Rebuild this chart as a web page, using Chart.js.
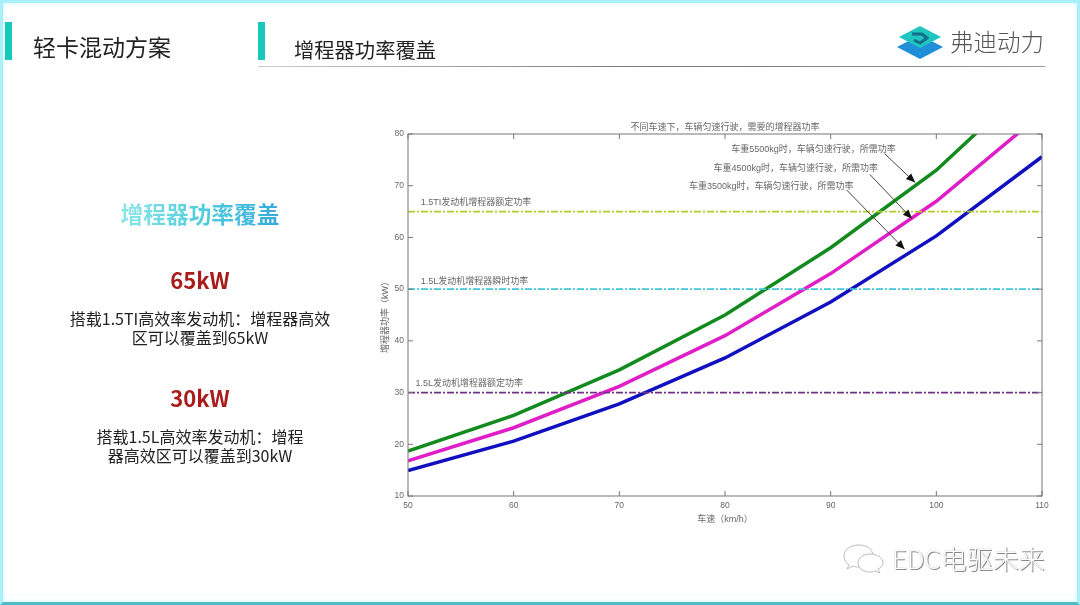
<!DOCTYPE html>
<html lang="zh">
<head>
  <meta charset="UTF-8" />
  <title>增程器功率覆盖</title>
  <script src="https://cdn.jsdelivr.net/npm/chart.js"></script>
  <style>
    * { margin: 0; padding: 0; box-sizing: border-box; }
    body {
      width: 1080px; height: 605px; overflow: hidden; position: relative;
      background: #fff;
      font-family: 'Noto Sans CJK SC', sans-serif;
      color: #222;
    }
    .frame {
      position: absolute; inset: 0; pointer-events: none;
      border: 3px solid #a8f0fa;
      border-bottom-color: #4bbcc8;
      box-shadow: inset 0 0 5px #c9f6fc;
    }
    .bar { position: absolute; top: 22px; width: 7px; height: 38px; background: #17c9bb; }
    .abs { position: absolute; white-space: nowrap; line-height: 1; }
    .rule {
      position: absolute; left: 258px; top: 66px; width: 787px; height: 1px;
      background: linear-gradient(90deg, #ccc, #777 50%, #999);
    }
    .panel { position: absolute; left: 50px; width: 300px; text-align: center; }
    .panel .big { font-size: 22px; font-weight: 700; color: #a81c1c; line-height: 1; }
    .panel .txt { font-size: 16px; line-height: 19px; color: #222; white-space: nowrap; }
    .head {
      display: inline-block; font-size: 22.7px; line-height: 1; font-weight: 700;
      background: linear-gradient(90deg, #8de6e8, #4fcbdc 55%, #36a9dc);
      -webkit-background-clip: text; -webkit-text-fill-color: transparent;
    }
    #chart { position: absolute; left: 0; top: 0; }
  </style>
</head>
<body>
  <canvas id="chart" width="1080" height="605"></canvas>
  <div class="frame"></div>

  <div class="bar" style="left:5px"></div>
  <div class="abs" style="left:33px;top:35px;font-size:23px">轻卡混动方案</div>
  <div class="bar" style="left:258px"></div>
  <div class="abs" style="left:294px;top:39px;font-size:20.3px">增程器功率覆盖</div>
  <div class="rule"></div>

  <svg class="abs" style="left:896px;top:25px" width="48" height="35" viewBox="0 0 48 35">
    <polygon points="24,10 47,22 24,34 1,22" fill="#1f8fd8"/>
    <polygon points="24,1 45,12 24,23 3,12" fill="#1fc6c0"/>
    <path d="M16 9 L26 9 L31 13 L24 18 L18 15" fill="none" stroke="#136f8c" stroke-width="3"/>
  </svg>
  <div class="abs" style="left:950px;top:30px;font-size:23.5px;color:#555;font-weight:300">弗迪动力</div>

  <div class="panel" style="top:203px"><span class="head">增程器功率覆盖</span></div>
  <div class="panel" style="top:268px"><div class="big">65kW</div></div>
  <div class="panel" style="top:309px">
    <div class="txt">搭载1.5TI高效率发动机：增程器高效<br>区可以覆盖到65kW</div>
  </div>
  <div class="panel" style="top:386px"><div class="big">30kW</div></div>
  <div class="panel" style="top:427px">
    <div class="txt">搭载1.5L高效率发动机：增程<br>器高效区可以覆盖到30kW</div>
  </div>

  <svg class="abs" style="left:842px;top:543px" width="44" height="32" viewBox="0 0 44 32">
    <g fill="#fff" stroke="#bbb" stroke-width="1">
      <path d="M17 2 C8 2 2 7 2 13 C2 17 4 20 7 22 L5 26 L11 23 C13 24 15 24 17 24 C26 24 31 19 31 13 C31 7 26 2 17 2 Z"/>
      <path d="M28 11 C21 11 16 15 16 20 C16 25 21 29 28 29 C30 29 31 29 33 28 L38 30 L36 26 C39 25 41 22 41 20 C41 15 35 11 28 11 Z"/>
    </g>
  </svg>
  <div class="abs" style="left:892px;top:545px;font-size:26px;color:#fff;font-weight:300;text-shadow:1px 1px 0 #888, 0 0 1px #aaa">EDC电驱未来</div>

  <script>
    const speeds = [50, 60, 70, 80, 90, 100, 110];
    const power5500 = [18.7, 25.6, 34.4, 45, 58, 73, 92];
    const power4500 = [16.8, 23.2, 31.2, 41, 53, 67, 84];
    const power3500 = [14.9, 20.6, 27.8, 36.7, 47.5, 60.3, 75.6];

    const rated15TI = [65, 65];
    const peak15L = [50, 50];
    const rated15L = [30, 30];
    const limitX = [50, 110];

    const xTicks = [50, 60, 70, 80, 90, 100, 110];
    const yTicks = [10, 20, 30, 40, 50, 60, 70, 80];

    const titleText = '不同车速下，车辆匀速行驶，需要的增程器功率';
    const xTitle = '车速（km/h）';
    const yTitle = '增程器功率（kW）';

    // 图中标注：x, y 为数据坐标
    const notes = [
      { text: '1.5TI发动机增程器额定功率', x: 51.2, y: 66.7 },
      { text: '1.5L发动机增程器瞬时功率', x: 51.2, y: 51.4 },
      { text: '1.5L发动机增程器额定功率', x: 50.7, y: 31.8 },
      { text: '车重5500kg时，车辆匀速行驶，所需功率', x: 80.6, y: 77.0 },
      { text: '车重4500kg时，车辆匀速行驶，所需功率', x: 78.9, y: 73.3 },
      { text: '车重3500kg时，车辆匀速行驶，所需功率', x: 76.6, y: 69.8 }
    ];
    const arrows = [
      { from: [95.1, 76.2], to: [98.0, 70.6] },
      { from: [93.7, 72.2], to: [97.7, 63.6] },
      { from: [91.5, 69.2], to: [97.0, 57.7] }
    ];

    const chartFont = '9px "Liberation Sans", "Noto Sans CJK SC"';

    function lineSet(data, color, width, dash) {
      return {
        data: data, borderColor: color, borderWidth: width, borderDash: dash || [],
        pointRadius: 0, tension: 0, fill: false
      };
    }
    function toXY(xs, ys) {
      return xs.map((x, i) => ({ x: x, y: ys[i] }));
    }

    const dashDot = [7, 2, 2, 2];

    const matlabBox = {
      id: 'matlabBox',
      afterDatasetsDraw(chart) {
        const { ctx, chartArea: a, scales: { x, y } } = chart;
        ctx.save();
        ctx.strokeStyle = '#777';
        ctx.lineWidth = 1;
        ctx.strokeRect(a.left, a.top, a.right - a.left, a.bottom - a.top);
        ctx.beginPath();
        xTicks.forEach(v => {
          const p = x.getPixelForValue(v);
          ctx.moveTo(p, a.bottom); ctx.lineTo(p, a.bottom - 5);
          ctx.moveTo(p, a.top); ctx.lineTo(p, a.top + 5);
        });
        yTicks.forEach(v => {
          const p = y.getPixelForValue(v);
          ctx.moveTo(a.left, p); ctx.lineTo(a.left + 5, p);
          ctx.moveTo(a.right, p); ctx.lineTo(a.right - 5, p);
        });
        ctx.stroke();

        // 标注文字
        ctx.fillStyle = '#666';
        ctx.font = chartFont;
        ctx.textBaseline = 'middle';
        notes.forEach(n => ctx.fillText(n.text, x.getPixelForValue(n.x), y.getPixelForValue(n.y)));

        // 箭头
        ctx.strokeStyle = '#444';
        ctx.fillStyle = '#111';
        arrows.forEach(ar => {
          const x0 = x.getPixelForValue(ar.from[0]), y0 = y.getPixelForValue(ar.from[1]);
          const x1 = x.getPixelForValue(ar.to[0]), y1 = y.getPixelForValue(ar.to[1]);
          const ang = Math.atan2(y1 - y0, x1 - x0);
          ctx.beginPath();
          ctx.moveTo(x0, y0); ctx.lineTo(x1, y1);
          ctx.stroke();
          ctx.beginPath();
          ctx.moveTo(x1, y1);
          ctx.lineTo(x1 - 10 * Math.cos(ang - 0.4), y1 - 10 * Math.sin(ang - 0.4));
          ctx.lineTo(x1 - 10 * Math.cos(ang + 0.4), y1 - 10 * Math.sin(ang + 0.4));
          ctx.closePath();
          ctx.fill();
        });
        ctx.restore();
      }
    };

    new Chart(document.getElementById('chart'), {
      type: 'line',
      data: {
        datasets: [
          lineSet(toXY(limitX, rated15TI), '#b2cc2c', 1.8, dashDot),
          lineSet(toXY(limitX, peak15L), '#40c8d8', 1.8, dashDot),
          lineSet(toXY(limitX, rated15L), '#70308a', 1.8, dashDot),
          lineSet(toXY(speeds, power5500), '#128a1e', 3.5),
          lineSet(toXY(speeds, power4500), '#e01ec8', 3.5),
          lineSet(toXY(speeds, power3500), '#1010c0', 3.5)
        ]
      },
      options: {
        responsive: false,
        animation: false,
        layout: { padding: { left: 383, top: 134, right: 38, bottom: 89 } },
        plugins: { legend: { display: false }, tooltip: { enabled: false } },
        scales: {
          x: {
            type: 'linear', min: 50, max: 110,
            afterBuildTicks: s => { s.ticks = xTicks.map(v => ({ value: v })); },
            grid: { display: false, drawTicks: false },
            border: { display: false },
            ticks: { color: '#666', font: { size: 8.5, family: 'Liberation Sans' }, padding: 5, maxRotation: 0, autoSkip: false },
            afterFit: s => { s.height = 20; }
          },
          y: {
            type: 'linear', min: 10, max: 80,
            afterBuildTicks: s => { s.ticks = yTicks.map(v => ({ value: v })); },
            grid: { display: false, drawTicks: false },
            border: { display: false },
            ticks: { color: '#666', font: { size: 8.5, family: 'Liberation Sans' }, padding: 4, autoSkip: false },
            afterFit: s => { s.width = 25; }
          }
        }
      },
      plugins: [matlabBox, {
        id: 'titles',
        afterDraw(chart) {
          const { ctx, chartArea: a } = chart;
          ctx.save();
          ctx.fillStyle = '#666';
          ctx.font = chartFont;
          ctx.textAlign = 'center';
          ctx.textBaseline = 'middle';
          const cx = (a.left + a.right) / 2;
          ctx.fillText(titleText, cx, a.top - 6);
          ctx.fillText(xTitle, cx, a.bottom + 24);
          ctx.translate(a.left - 22, (a.top + a.bottom) / 2);
          ctx.rotate(-Math.PI / 2);
          ctx.fillText(yTitle, 0, 0);
          ctx.restore();
        }
      }]
    });
  </script>
</body>
</html>
